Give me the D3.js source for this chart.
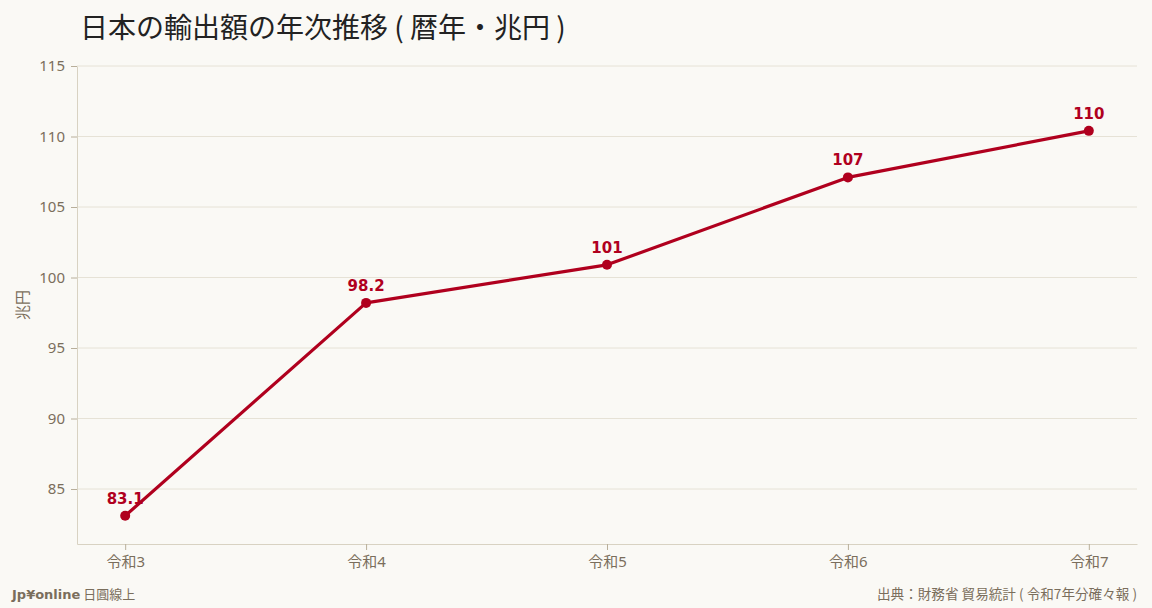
<!DOCTYPE html>
<html>
<head>
<meta charset="utf-8">
<script src="https://cdn.jsdelivr.net/npm/d3@7"></script>
<style>
  body { margin: 0; background: #faf9f5; }
  svg { display: block; font-family: "Noto Sans CJK JP", "Noto Sans", sans-serif; }
</style>
</head>
<body>
<svg id="canvas" width="1152" height="608"></svg>
<script>
let years = ['令和3', '令和4', '令和5', '令和6', '令和7'];
let exports = [83.1, 98.2, 100.9, 107.1, 110.4];
let yTicks = [85, 90, 95, 100, 105, 110, 115];

let canvas = d3.select('#canvas');
let margin = {left: 77, right: 15, top: 66, bottom: 64};
let width = 1152, height = 608;

let x = d3.scalePoint()
    .domain(years)
    .range([margin.left, width - margin.right])
    .padding(0.2);

let y = d3.scaleLinear()
    .domain([d3.min(exports) - 2, 115])
    .range([height - margin.bottom, margin.top]);

let textColor = '#7a6e5c';
let lineColor = '#b0001e';

canvas.append('rect').attr('width', width).attr('height', height).attr('fill', '#faf9f5');

// grid
canvas.append('g')
    .selectAll('line')
    .data(yTicks)
    .enter()
    .append('line')
    .attr('x1', margin.left)
    .attr('x2', width - margin.right)
    .attr('y1', d => y(d))
    .attr('y2', d => y(d))
    .attr('stroke', '#e6e2d6')
    .attr('stroke-width', 1);

// axes
let yAxis = canvas.append('g')
    .attr('transform', 'translate(' + margin.left + ',0)')
    .call(d3.axisLeft(y).tickValues(yTicks).tickSizeOuter(0).tickPadding(6));
let xAxis = canvas.append('g')
    .attr('transform', 'translate(0,' + (height - margin.bottom) + ')')
    .call(d3.axisBottom(x).tickSizeOuter(0).tickPadding(6));

[xAxis, yAxis].forEach(ax => {
    ax.select('.domain').attr('stroke', '#d8d2c2');
    ax.selectAll('.tick line').attr('stroke', '#b8ae9a');
    ax.selectAll('.tick text')
        .attr('fill', textColor)
        .style('font-size', '15px')
        .style('font-family', '"Noto Sans", "Noto Sans CJK JP", sans-serif');
});

// line
canvas.append('path')
    .datum(exports)
    .attr('fill', 'none')
    .attr('stroke', lineColor)
    .attr('stroke-width', 3.2)
    .attr('stroke-linejoin', 'round')
    .attr('d', d3.line().x((d, i) => x(years[i])).y(d => y(d)));

canvas.append('g')
    .selectAll('circle')
    .data(exports)
    .enter()
    .append('circle')
    .attr('cx', (d, i) => x(years[i]))
    .attr('cy', d => y(d))
    .attr('r', 5)
    .attr('fill', lineColor);

canvas.append('g')
    .selectAll('text')
    .data(exports)
    .enter()
    .append('text')
    .attr('x', (d, i) => x(years[i]))
    .attr('y', d => y(d) - 12)
    .attr('text-anchor', 'middle')
    .attr('fill', lineColor)
    .style('font-family', '"DejaVu Sans", sans-serif')
    .style('font-weight', 'bold')
    .style('font-size', '15px')
    .text(d => d3.format('.3~r')(d));

// title
canvas.append('text')
    .attr('x', 80)
    .attr('y', 38)
    .attr('fill', '#222')
    .style('font-size', '28px')
    .text('日本の輸出額の年次推移 ( 暦年・兆円 )');

// y label
canvas.append('text')
    .attr('transform', 'translate(28,' + ((margin.top + height - margin.bottom) / 2) + ') rotate(-90)')
    .attr('text-anchor', 'middle')
    .attr('fill', textColor)
    .style('font-size', '15px')
    .text('兆円');

// footer
let footer = canvas.append('text')
    .attr('x', 12)
    .attr('y', 599)
    .attr('fill', textColor)
    .style('font-size', '13px');
footer.append('tspan').style('font-weight', 'bold').style('font-family', '"DejaVu Sans", sans-serif').text('Jp¥online');
footer.append('tspan').text(' 日圓線上');

canvas.append('text')
    .attr('x', 1137)
    .attr('y', 599)
    .attr('text-anchor', 'end')
    .attr('fill', textColor)
    .style('font-size', '13.6px')
    .text('出典：財務省 貿易統計 ( 令和7年分確々報 )');
</script>
</body>
</html>
